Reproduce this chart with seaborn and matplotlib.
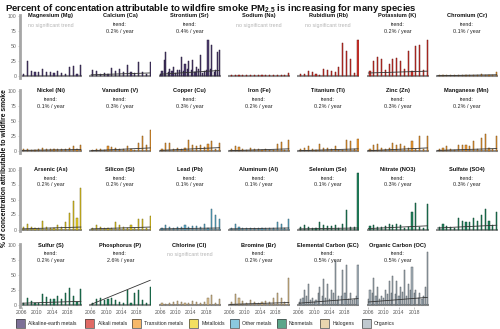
import matplotlib
matplotlib.use("Agg")
import matplotlib.pyplot as plt
from matplotlib.patches import Rectangle
from matplotlib.colors import to_rgb
import numpy as np
import pandas as pd
import seaborn as sns

# ---------------------------------------------------------------------------
# Seasonal peak share of each species attributable to wildfire smoke (%),
# one value per year 2006-2021
# ---------------------------------------------------------------------------
YEARS = list(range(2006, 2022))

MG = [3, 25, 8, 7, 6, 12, 6, 7, 5, 9, 5, 4, 15, 17, 4, 18]
CA = [10, 8, 4, 5, 3, 13, 8, 12, 7, 18, 6, 5, 23, 6, 3, 23]
SR = [8, 40, 12, 15, 10, 32, 20, 25, 27, 15, 35, 8, 60, 52, 10, 44]
NA = [1, 2, 1, 1, 2, 1, 1, 2, 1, 1, 2, 1, 2, 2, 1, 5]
RB = [3, 4, 8, 7, 3, 2, 12, 10, 8, 7, 15, 55, 42, 28, 5, 60]
K = [8, 25, 32, 28, 10, 20, 28, 30, 25, 12, 42, 8, 50, 52, 10, 60]
CR = [1, 1, 2, 1, 1, 2, 1, 1, 2, 1, 1, 3, 2, 2, 2, 7]
NI = [3, 4, 2, 2, 3, 5, 4, 4, 3, 4, 3, 3, 5, 8, 3, 10]
V = [2, 4, 3, 2, 8, 6, 5, 4, 3, 8, 3, 2, 14, 25, 10, 35]
CU = [4, 13, 14, 4, 5, 4, 5, 18, 10, 8, 10, 7, 12, 17, 4, 13]
FE = [4, 8, 6, 3, 2, 5, 3, 3, 2, 3, 2, 2, 12, 15, 2, 18]
TI = [3, 5, 8, 3, 2, 12, 5, 5, 3, 8, 2, 2, 18, 17, 3, 20]
ZN = [3, 10, 12, 5, 3, 5, 14, 10, 12, 8, 5, 17, 3, 25, 4, 25]
MN = [3, 5, 8, 3, 2, 10, 10, 10, 8, 16, 3, 22, 28, 5, 3, 25]
AS = [5, 10, 5, 3, 2, 15, 5, 3, 3, 8, 5, 12, 28, 48, 20, 70]
SI = [3, 7, 4, 2, 3, 3, 12, 7, 5, 3, 8, 3, 18, 17, 3, 22]
PB = [2, 8, 5, 2, 4, 4, 8, 5, 6, 6, 4, 10, 3, 35, 25, 18]
AL = [3, 10, 4, 2, 3, 2, 3, 2, 2, 2, 3, 2, 12, 10, 2, 18]
SE = [4, 8, 5, 3, 2, 12, 7, 6, 6, 8, 3, 10, 32, 5, 4, 95]
NO3 = [6, 8, 4, 5, 6, 10, 8, 10, 8, 3, 4, 30, 45, 5, 3, 42]
SO4 = [4, 10, 6, 5, 3, 20, 15, 12, 12, 20, 15, 25, 35, 15, 8, 30]
S = [3, 12, 7, 3, 4, 18, 14, 10, 10, 15, 10, 20, 28, 15, 5, 27]
P = [3, 10, 12, 8, 10, 12, 8, 5, 4, 25, 4, 20, 25, 8, 4, 30]
CL = [3, 2, 4, 5, 6, 5, 3, 4, 6, 5, 4, 5, 12, 16, 3, 10]
BR = [5, 18, 12, 6, 4, 8, 5, 4, 5, 6, 5, 12, 20, 12, 5, 45]
EC = [10, 25, 35, 12, 8, 30, 44, 35, 25, 73, 15, 59, 67, 20, 10, 67]
OC = [25, 45, 30, 15, 25, 40, 49, 40, 30, 58, 35, 64, 25, 20, 15, 89]

# secondary (early-season) peaks
SR_EARLY = [4, 27, 6, 8, 5, 10, 8, 12, 10, 6, 12, 5, 10, 12, 6, 40]
EC_EARLY = [5, 12, 15, 8, 5, 20, 15, 12, 10, 20, 8, 15, 20, 10, 8, 15]
OC_EARLY = [10, 20, 15, 10, 12, 18, 20, 18, 15, 22, 15, 25, 20, 12, 10, 30]

TITLES = [
    "Magnesium (Mg)", "Calcium (Ca)", "Strontium (Sr)", "Sodium (Na)",
    "Rubidium (Rb)", "Potassium (K)", "Chromium (Cr)",
    "Nickel (Ni)", "Vanadium (V)", "Copper (Cu)", "Iron (Fe)",
    "Titanium (Ti)", "Zinc (Zn)", "Manganese (Mn)",
    "Arsenic (As)", "Silicon (Si)", "Lead (Pb)", "Aluminum (Al)",
    "Selenium (Se)", "Nitrate (NO3)", "Sulfate (SO4)",
    "Sulfur (S)", "Phosphorus (P)", "Chlorine (Cl)", "Bromine (Br)",
    "Elemental Carbon (EC)", "Organic Carbon (OC)",
]
PEAKS = [MG, CA, SR, NA, RB, K, CR, NI, V, CU, FE, TI, ZN, MN,
         AS, SI, PB, AL, SE, NO3, SO4, S, P, CL, BR, EC, OC]
EARLY = {"Strontium (Sr)": SR_EARLY,
         "Elemental Carbon (EC)": EC_EARLY,
         "Organic Carbon (OC)": OC_EARLY}

GROUPS = (["Alkaline-earth metals"] * 3 + ["Alkali metals"] * 3
          + ["Transition metals"] * 8
          + ["Metalloids", "Metalloids", "Other metals", "Other metals"]
          + ["Nonmetals"] * 5
          + ["Halogens", "Halogens", "Organics", "Organics"])

# trend in % per year (None = no significant trend) and level in 2006
SLOPES = [None, 0.2, 0.4, None, None, 0.2, 0.1,
          0.1, 0.3, 0.3, 0.2, 0.2, 0.3, 0.2,
          0.2, 0.2, 0.1, 0.1, 0.1, 0.3, 0.3,
          0.2, 2.6, None, 0.2, 0.5, 0.5]
START = [0, 2, 3, 0, 0, 5, 0.5,
         1, 0.5, 1, 0.5, 0.5, 0.5, 1,
         1, 1, 1, 1, 1, 1.5, 2.5,
         3, 1, 0, 1, 3, 5]

LEGEND_ORDER = ["Alkaline-earth metals", "Alkali metals", "Transition metals",
                "Metalloids", "Other metals", "Nonmetals", "Halogens",
                "Organics"]
GROUP_COLORS = {
    "Alkaline-earth metals": "#46336b",
    "Alkali metals": "#d42a22",
    "Transition metals": "#f39a2a",
    "Metalloids": "#efd21c",
    "Other metals": "#5ab2d4",
    "Nonmetals": "#178158",
    "Halogens": "#e2c48d",
    "Organics": "#a4b1bb",
}


def darker(c, f=0.5):
    r, g, b = to_rgb(c)
    return (r * f, g * f, b * f)


# ---------------------------------------------------------------------------
# Long-form table
# ---------------------------------------------------------------------------
rows = []
for title, peaks, grp in zip(TITLES, PEAKS, GROUPS):
    for yr, v in zip(YEARS, peaks):
        rows.append(dict(species=title, group=grp, t=yr + 0.45, value=v,
                         kind="main"))
    if title in EARLY:
        for yr, v in zip(YEARS, EARLY[title]):
            rows.append(dict(species=title, group=grp, t=yr + 0.05, value=v,
                             kind="early"))
df = pd.DataFrame(rows)

sns.set_theme(style="white")
plt.rcParams["font.family"] = ["Liberation Sans", "DejaVu Sans"]
plt.rcParams["mathtext.fontset"] = "custom"
plt.rcParams["mathtext.bf"] = "Liberation Sans:bold"
plt.rcParams["mathtext.rm"] = "Liberation Sans:bold"
plt.rcParams["mathtext.default"] = "bf"

X_MIN, X_MAX = 2005.55, 2021.75
Y_MIN, Y_MAX = -3, 102
X_MID = (X_MIN + X_MAX) / 2


def draw_panel(data, **kws):
    ax = plt.gca()
    col = GROUP_COLORS[data["group"].iloc[0]]
    for kind in ("early", "main"):
        sub = data[data["kind"] == kind]
        if sub.empty:
            continue
        sns.barplot(data=sub, x="t", y="value", native_scale=True,
                    width=0.3, color=col, saturation=1, alpha=0.95,
                    edgecolor=darker(col), linewidth=0.35,
                    errorbar=None, ax=ax)


# independent axes so each panel keeps its own ticks
g = sns.FacetGrid(df, col="species", col_wrap=7, col_order=TITLES,
                  sharex=False, sharey=False, height=1, aspect=1,
                  despine=False)
g.map_dataframe(draw_panel)

fig = g.figure
fig.set_size_inches(5, 3.29)
W, H = 500, 329

COL_LEFT = [20 + 69.3 * c for c in range(7)]
ROW_TOP100 = [16, 91, 169.5, 245]
PX_PER_UNIT = 0.6
PANEL_W = 62

for i, (ax, title) in enumerate(zip(g.axes.flat, TITLES)):
    r, c = divmod(i, 7)
    top_px = ROW_TOP100[r] - (Y_MAX - 100) * PX_PER_UNIT
    h_px = (Y_MAX - Y_MIN) * PX_PER_UNIT
    ax.set_position([COL_LEFT[c] / W, 1 - (top_px + h_px) / H,
                     PANEL_W / W, h_px / H])

    # linear trend
    slope = SLOPES[i]
    if slope is not None:
        tx = np.array([2006.0, 2021.5])
        line_df = pd.DataFrame({"x": tx, "y": START[i] + slope * (tx - 2006)})
        sns.lineplot(data=line_df, x="x", y="y", color="#333333",
                     linewidth=0.6, ax=ax)
        ax.text(X_MID, 80, f"trend:\n{slope:.1f}% / year",
                ha="center", va="center", fontsize=3.9,
                color="#222222", linespacing=1.35)
    else:
        ax.text(X_MID, 84, "no significant trend",
                ha="center", va="center", fontsize=3.9, color="#b5b5b5")

    ax.set_xlim(X_MIN, X_MAX)
    ax.set_ylim(Y_MIN, Y_MAX)
    ax.set_title("")
    ax.set_xlabel("")
    ax.set_ylabel("")
    ax.set_facecolor("none")
    ax.grid(False)
    for sp in ax.spines.values():
        sp.set_visible(False)

    ax.text(X_MID, 100, title, ha="center", va="center",
            fontsize=4.1, fontweight="bold", color="#111111")

    # grey zero baseline
    ax.axhline(0, color="#8f8f8f", linewidth=1.5, zorder=0.5)

    # y axis only on the first column
    if c == 0:
        ax.spines["left"].set_visible(True)
        ax.spines["left"].set_color("#a6a6a6")
        ax.spines["left"].set_linewidth(2.0)
        ax.set_yticks([0, 25, 50, 75, 100])
        ax.set_yticklabels(["0", "25", "50", "75", "100"])
        ax.tick_params(axis="y", length=1.5, width=0.4, pad=1,
                       labelsize=3.7, colors="#a6a6a6", labelcolor="#666666",
                       left=True, labelleft=True, right=False)
    else:
        ax.set_yticks([])
        ax.tick_params(axis="y", left=False, labelleft=False, right=False)

    # x axis only on the bottom row
    if r == 3:
        ax.set_xticks([2006, 2010, 2014, 2018])
        ax.set_xticklabels(["2006", "2010", "2014", "2018"])
        ax.tick_params(axis="x", length=1.5, width=0.4, pad=1,
                       labelsize=3.7, colors="#8f8f8f", labelcolor="#555555",
                       bottom=True, labelbottom=True, top=False)
    else:
        ax.set_xticks([])
        ax.tick_params(axis="x", bottom=False, labelbottom=False, top=False)

fig.text(5 / W, 1 - 8.5 / H,
         "Percent of concentation attributable to wildfire smoke PM$_{2.5}$"
         " is increasing for many species",
         ha="left", va="center", fontsize=6.8, fontweight="bold",
         color="#111111")
fig.text(5 / W, 1 - 168 / H,
         "% of concentration attributable to wildfire smoke",
         rotation=90, ha="center", va="center", fontsize=4.9,
         fontweight="bold", color="#111111")

# legend: colour swatches with group names along the bottom
LEG_X = [16, 85, 131.5, 189, 230, 276.5, 320, 361.5]
LEG_Y = 323.5
BOX = 9
for x, name in zip(LEG_X, LEGEND_ORDER):
    fig.add_artist(Rectangle((x / W, 1 - (LEG_Y + BOX / 2) / H),
                             BOX / W, BOX / H, transform=fig.transFigure,
                             facecolor=GROUP_COLORS[name], alpha=0.7,
                             edgecolor="none"))
    fig.add_artist(Rectangle((x / W, 1 - (LEG_Y + BOX / 2) / H),
                             BOX / W, BOX / H, transform=fig.transFigure,
                             facecolor="none", edgecolor="#444444",
                             linewidth=0.5))
    fig.text((x + BOX + 3.5) / W, 1 - LEG_Y / H, name, ha="left",
             va="center", fontsize=3.7, color="#222222")

fig.savefig("out.png", dpi=100)
